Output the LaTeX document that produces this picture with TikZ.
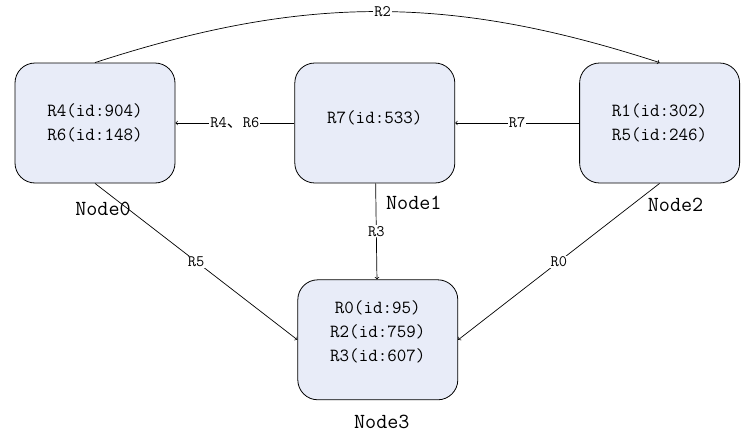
\documentclass[tikz,border=0pt]{standalone}
\usepackage{fontspec}
\newfontfamily\cjk{Noto Sans CJK SC}
\usetikzlibrary{positioning, arrows}
\definecolor{boxfill}{RGB}{232,236,248}
\tikzstyle{store} = [rectangle, rounded corners=20pt, minimum width=160pt, minimum height=120pt, align=center, draw=black, line width=0.8pt, fill=boxfill, font=\ttfamily\fontsize{18.5}{24}\selectfont]
\tikzstyle{tag} = [inner sep=0pt, font=\ttfamily\fontsize{21.5}{21.5}\selectfont]
\tikzstyle{rname} = [fill=white, inner sep=1pt, font=\ttfamily\fontsize{16}{16}\selectfont]
\tikzstyle{arrow} = [->, >=to, line width=0.7pt]
\begin{document}
\begin{tikzpicture}
\useasboundingbox (0pt,0pt) rectangle (753pt,-434pt);
\node (n0) [store] at (95pt,-123pt) {R4(id:904)\\R6(id:148)};
\node (n1) [store, right=119pt of n0] {R7(id:533)\\[-12pt]\mbox{}};
\node (n2) [store, right=124pt of n1] {R1(id:302)\\R5(id:246)};
\node (n3) [store, below=96pt of n1, xshift=3pt] {R0(id:95)\\R2(id:759)\\R3(id:607)\\[-6pt]\mbox{}};

\node (l0) [tag, below=19pt of n0, xshift=8pt] {Node0};
\node (l1) [tag, below=13pt of n1, xshift=39pt] {Node1};
\node (l2) [tag, below=15pt of n2, xshift=16pt] {Node2};
\node (l3) [tag, below=15pt of n3, xshift=4pt] {Node3};

\draw[arrow] (n0.north) to[out=18, in=162] node[rname, pos=0.51] {R2} (n2.north);
\draw[arrow] (n1) -- node[rname] {R4{\cjk 、}R6} (n0);
\draw[arrow] (n2) -- node[rname] {R7} (n1);
\draw[arrow] (n1) -- node[rname] {R3} (n3);
\draw[arrow] (n0.south) -- node[rname] {R5} (n3.west);
\draw[arrow] (n2.south) -- node[rname] {R0} (n3.east);
\end{tikzpicture}
\end{document}
